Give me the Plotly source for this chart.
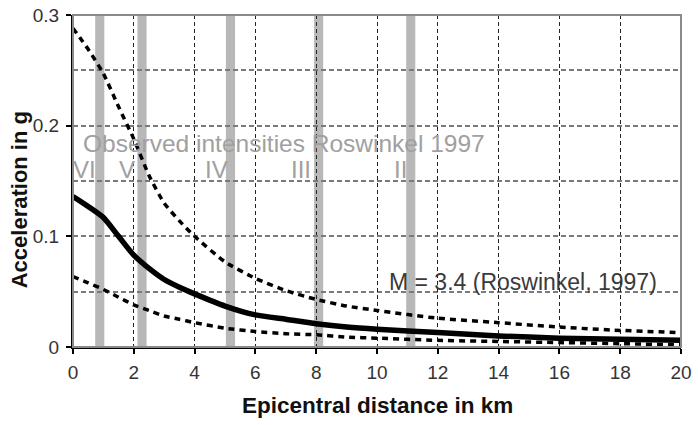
import plotly.graph_objects as go

# Data
distance_km = [0, 0.5, 1, 1.5, 2, 2.5, 3, 3.5, 4, 5, 6, 7, 8, 9, 10, 12, 14, 16, 18, 20]
accel_mean = [0.136, 0.127, 0.117, 0.100, 0.083, 0.071, 0.061, 0.054, 0.048, 0.037,
              0.029, 0.025, 0.021, 0.018, 0.016, 0.013, 0.010, 0.008, 0.007, 0.006]
accel_upper = [0.288, 0.269, 0.247, 0.217, 0.188, 0.155, 0.130, 0.114, 0.100, 0.077,
               0.062, 0.051, 0.043, 0.037, 0.033, 0.026, 0.022, 0.018, 0.015, 0.013]
accel_lower = [0.0635, 0.058, 0.052, 0.045, 0.038, 0.033, 0.028, 0.025, 0.022, 0.017,
               0.014, 0.012, 0.011, 0.009, 0.008, 0.006, 0.005, 0.004, 0.003, 0.002]

# Observed intensity bands (centre distance in km)
band_centers = [0.88, 2.27, 5.18, 8.08, 11.11]
band_width = 0.3
intensity_labels = ["VI", "V", "IV", "III", "II"]
intensity_label_x = [0.39, 1.78, 4.71, 7.51, 10.77]
intensity_label_y = 0.160

x_ticks = list(range(0, 21, 2))
y_ticks = [0, 0.1, 0.2, 0.3]

FONT = "Liberation Sans, Arial, sans-serif"

fig = go.Figure()

for xl, yl, dash, w in [
    (distance_km, accel_upper, "6px,5px", 3.5),
    (distance_km, accel_lower, "6px,5px", 3.5),
    (distance_km, accel_mean, "solid", 5.5),
]:
    fig.add_trace(go.Scatter(x=xl, y=yl, mode="lines",
                             line=dict(color="#000000", width=w, dash=dash, shape="spline", smoothing=0.6),
                             showlegend=False, hoverinfo="skip"))

shapes = []
for c in band_centers:
    shapes.append(dict(type="rect", xref="x", yref="y", layer="below",
                       x0=c - band_width / 2, x1=c + band_width / 2, y0=0, y1=0.3,
                       fillcolor="#b8b8b8", line=dict(width=0)))
# gray frame (top/right)
shapes.append(dict(type="rect", xref="x domain", yref="y domain", x0=0, x1=1, y0=0, y1=1,
                   line=dict(color="#8a8a8a", width=2), layer="above"))

W, H = 698, 425
ml = 72.7
mt = 15
mr = W - 680.7
mb = H - 347
plot_w = W - ml - mr
plot_h = H - mt - mb


def px_to_paper_x(px):
    return (px - ml) / plot_w


def px_to_paper_y(py):
    return (H - mb - py) / plot_h


annotations = [
    dict(x=0.25, y=0.184, xref="x", yref="y", text="Observed intensities Roswinkel 1997",
         showarrow=False, xanchor="left", yanchor="middle",
         font=dict(family=FONT, size=24.5, color="#a0a0a0")),
    dict(x=14.8, y=0.059, xref="x", yref="y", text="M = 3.4 (Roswinkel, 1997)",
         showarrow=False, xanchor="center", yanchor="middle",
         font=dict(family=FONT, size=23, color="#3a3a3a")),
    dict(x=0.5, y=px_to_paper_y(405), xref="x domain", yref="paper",
         text="<b>Epicentral distance in km</b>",
         showarrow=False, xanchor="center", yanchor="middle",
         font=dict(family=FONT, size=22.5, color="#111111")),
    dict(x=px_to_paper_x(19), y=px_to_paper_y(200), xref="paper", yref="paper",
         text="<b>Acceleration in g</b>",
         showarrow=False, textangle=-90, xanchor="center", yanchor="middle",
         font=dict(family=FONT, size=22, color="#111111")),
]
for t, xv in zip(intensity_labels, intensity_label_x):
    annotations.append(dict(x=xv, y=intensity_label_y, xref="x", yref="y", text=t,
                            showarrow=False, xanchor="center", yanchor="middle",
                            font=dict(family=FONT, size=24, color="#a0a0a0")))

fig.update_layout(
    width=W, height=H,
    margin=dict(l=ml, r=mr, t=mt, b=mb, pad=0, autoexpand=False),
    paper_bgcolor="white", plot_bgcolor="white",
    font=dict(family=FONT, color="#333333"),
    shapes=shapes, annotations=annotations,
    hovermode=False,
    xaxis=dict(range=[0, 20], tickvals=x_ticks, ticks="outside", ticklen=5, tickwidth=1.5,
               tickcolor="#000", showline=True, linecolor="#000", linewidth=2,
               showgrid=True, gridcolor="#222222", gridwidth=1, griddash="4px,3px",
               tickfont=dict(size=19, color="#333333"), ticklabelstandoff=2, zeroline=False,
               automargin=False, ticklabeloverflow="allow"),
    yaxis=dict(range=[0, 0.3], tickvals=y_ticks, ticktext=["0", "0.1", "0.2", "0.3"],
               ticks="outside", ticklen=5, tickwidth=1.5, tickcolor="#000",
               showline=True, linecolor="#000", linewidth=2,
               showgrid=True, gridcolor="#7a7a7a", gridwidth=1.5, griddash="5px,3px",
               minor=dict(dtick=0.05, tick0=0, showgrid=True, gridcolor="#7a7a7a", gridwidth=1.5,
                          griddash="5px,3px", ticks=""),
               tickfont=dict(size=19, color="#333333"), ticklabelstandoff=3, zeroline=False,
               automargin=False, ticklabeloverflow="allow"),
)

fig.write_html("out.html", config={"displayModeBar": False},
               post_script="document.body.style.margin='0px';")
